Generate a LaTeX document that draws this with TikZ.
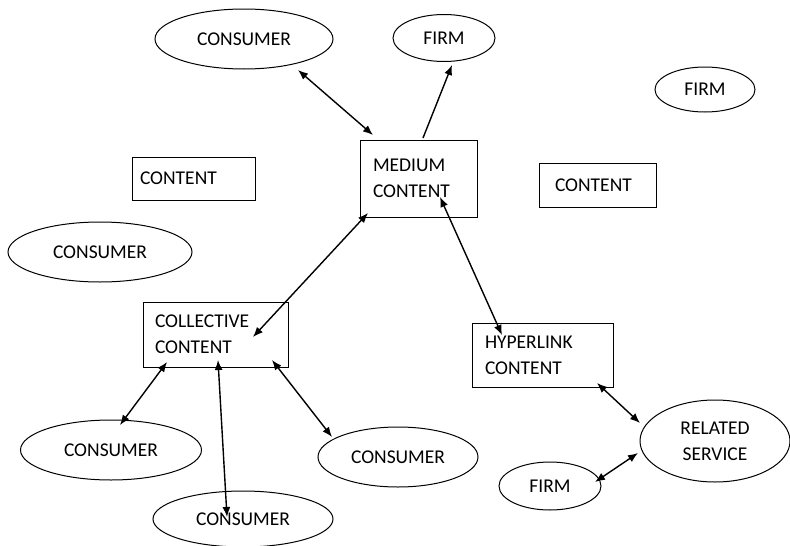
\documentclass[tikz,border=0pt]{standalone}
\usepackage{fontspec}
\setmainfont{Carlito}
\usetikzlibrary{shapes.geometric,arrows.meta,calc}
\begin{document}
\begin{tikzpicture}[x=1pt,y=-1pt,
  every node/.style={font=\fontsize{19.5}{26}\selectfont, text=black},
  ell/.style={draw, ellipse, inner sep=0pt, line width=1pt},
  box/.style={draw, rectangle, align=left, line width=1pt, inner ysep=0pt},
  arr/.style={{Latex[length=10pt,width=8pt]}-{Latex[length=10pt,width=8pt]}, line width=1.4pt},
  arrone/.style={-{Latex[length=10pt,width=8pt]}, line width=1.4pt}]
\useasboundingbox (0,0) rectangle (790,546);
\fill[white] (0,0) rectangle (790,546);
% ellipses
\node[ell, minimum width=178pt, minimum height=60pt] (c1) at (244,39) {CONSUMER};
\node[ell, minimum width=102pt, minimum height=47pt] (f1) at (444,38) {FIRM};
\node[ell, minimum width=100pt, minimum height=45pt] (f2) at (705,89.5) {FIRM};
\node[ell, minimum width=184pt, minimum height=60pt] (c2) at (100,252) {CONSUMER};
\node[ell, minimum width=181pt, minimum height=60pt] (c3) at (111,450) {CONSUMER};
\node[ell, minimum width=180pt, minimum height=56pt] (c4) at (243,519) {CONSUMER};
\node[ell, minimum width=160pt, minimum height=60pt] (c5) at (398,457) {CONSUMER};
\node[ell, minimum width=150pt, minimum height=82pt, align=center] (rel) at (715,441) {RELATED\\SERVICE};
\node[ell, minimum width=102pt, minimum height=48pt] (f3) at (550,486) {FIRM};
% boxes
\node[box, inner xsep=8pt, text width=107pt, minimum height=43pt] (ct1) at (193.5,178.5) {CONTENT};
\node[box, inner xsep=16pt, text width=85pt, minimum height=44pt] (ct2) at (597.5,185) {CONTENT};
\node[box, inner xsep=13pt, text width=91pt, minimum height=77pt] (med) at (418.5,178.5) {MEDIUM\\CONTENT};
\node[box, inner xsep=12pt, text width=121pt, minimum height=65pt] (col) at (215.5,334.5) {COLLECTIVE\\CONTENT};
\node[box, inner xsep=13pt, text width=115pt, minimum height=64pt] (hyp) at (542.5,355) {HYPERLINK\\CONTENT};
% connectors
\draw[arr] ($(c1.center)+(54,31)$) -- ($(med.center)+(-45.5,-43.5)$);
\draw[arrone] ($(med.center)+(4.5,-40.5)$) -- ($(f1.center)+(8,27)$);
\draw[arr] ($(col.center)+(37.5,2.5)$) -- ($(med.center)+(-50.5,34.5)$);
\draw[arr] ($(med.center)+(21.5,18.5)$) -- ($(hyp.center)+(-40.5,-20)$);
\draw[arr] ($(col.center)+(-48.5,27.5)$) -- ($(c3.center)+(9,-25)$);
\draw[arr] ($(col.center)+(2.5,25.5)$) -- ($(c4.center)+(-16,-2)$);
\draw[arr] ($(col.center)+(56.5,25.5)$) -- ($(c5.center)+(-66,-20)$);
\draw[arr] ($(hyp.center)+(54.5,28)$) -- ($(rel.center)+(-75,-18)$);
\draw[arr] ($(f3.center)+(45,-4)$) -- ($(rel.center)+(-77,12)$);
\end{tikzpicture}
\end{document}
